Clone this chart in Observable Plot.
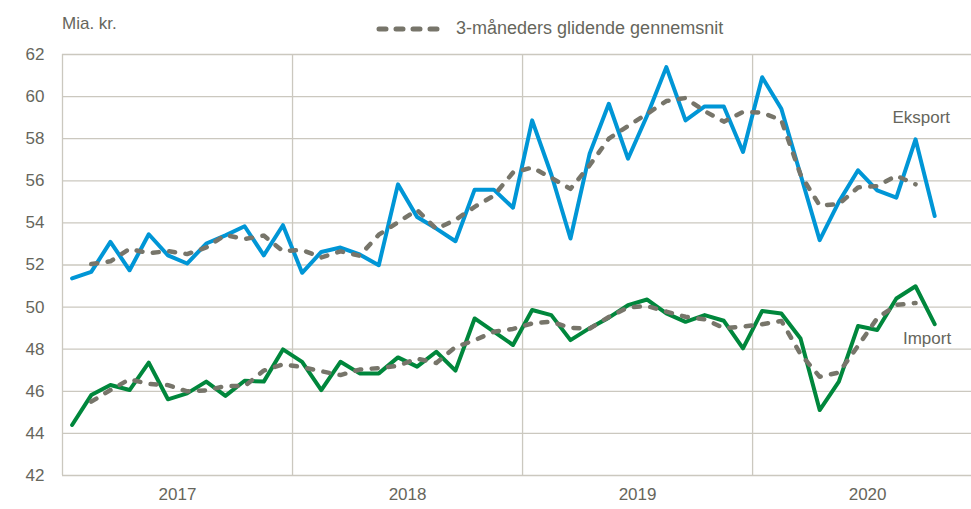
<!DOCTYPE html>
<html>
<head>
<meta charset="utf-8">
<script src="https://cdn.jsdelivr.net/npm/d3@7"></script>
<script src="https://cdn.jsdelivr.net/npm/@observablehq/plot@0.6"></script>
<style>
  html, body { margin: 0; padding: 0; background: #fff; }
  #wrap { position: relative; width: 971px; height: 509px; font-family: "Liberation Sans", Arial, sans-serif; color: #66665c; }
  #unit { position: absolute; left: 62px; top: 14px; font-size: 17px; }
  #legend { position: absolute; left: 376px; top: 18px; font-size: 18px; display: flex; align-items: center; }
  #legend svg { margin-right: 10px; }
  #chart { position: absolute; left: 0; top: 0; }
</style>
</head>
<body>
<div id="wrap">
  <div id="chart"></div>
  <div id="unit">Mia. kr.</div>
  <div id="legend"><svg width="70" height="10"><line x1="3" y1="5" x2="68" y2="5" stroke="#77756a" stroke-width="5" stroke-dasharray="7,10" stroke-linecap="round"/></svg><span>3-måneders glidende gennemsnit</span></div>
</div>
<script>
// Monthly values, Jan 2017 – Oct 2020 (mia. kr.)
const startYear = 2017;
const years = ["2017", "2018", "2019", "2020"];
const eksport = [51.36, 51.67, 53.10, 51.75, 53.46, 52.46, 52.07, 53.02, 53.41, 53.84, 52.46, 53.89,
                 51.63, 52.62, 52.83, 52.50, 51.99, 55.83, 54.28, 53.73, 53.13, 55.58, 55.58, 54.72,
                 58.87, 56.30, 53.26, 57.29, 59.66, 57.05, 59.10, 61.40, 58.87, 59.53, 59.53, 57.37,
                 60.92, 59.42, 56.30, 53.18, 55.00, 56.50, 55.55, 55.20, 57.97, 54.33];
const importV = [44.40, 45.82, 46.30, 46.06, 47.36, 45.62, 45.90, 46.46, 45.78, 46.50, 46.46, 47.99,
                 47.40, 46.06, 47.40, 46.85, 46.85, 47.61, 47.17, 47.88, 46.98, 49.46, 48.83, 48.20,
                 49.86, 49.62, 48.43, 49.00, 49.50, 50.09, 50.36, 49.70, 49.30, 49.62, 49.35, 48.04,
                 49.82, 49.70, 48.51, 45.11, 46.46, 49.10, 48.91, 50.41, 50.99, 49.19];
const yTicks = [42, 44, 46, 48, 50, 52, 54, 56, 58, 60, 62];

const rowsE = eksport.map((v, i) => ({i, v}));
const rowsI = importV.map((v, i) => ({i, v}));
const yearBounds = years.map((y, k) => k * 12 - 0.5);
const yearCenters = years.map((y, k) => k * 12 + 5.5);

const grid = "#cbc8bf";
const txt = "#66665c";
const dashColor = "#77756a";

const ma = (rows) => Plot.windowY({k: 3, anchor: "middle", reduce: "mean", strict: true}, {x: "i", y: "v"});

const chart = Plot.plot({
  width: 971,
  height: 509,
  marginLeft: 62,
  marginRight: 0,
  marginTop: 54,
  marginBottom: 34,
  style: {fontFamily: "'Liberation Sans', Arial, sans-serif", fontSize: "17px", color: txt, background: "transparent"},
  x: {type: "linear", domain: [-0.5, 46.92], axis: null},
  y: {domain: [42, 62], axis: null},
  marks: [
    Plot.ruleY(yTicks, {stroke: grid, strokeWidth: 1.3}),
    Plot.ruleX(yearBounds, {stroke: grid, strokeWidth: 1.3}),
    Plot.axisY({ticks: yTicks, tickSize: 0, tickPadding: 18, fontSize: 17, fill: txt, label: null}),
    Plot.axisX({ticks: yearCenters, tickFormat: (d) => years[Math.round((d - 5.5) / 12)], tickSize: 0, tickPadding: 12, fontSize: 17, fill: txt, label: null}),
    Plot.line(rowsE, {x: "i", y: "v", stroke: "#0096d6", strokeWidth: 4}),
    Plot.line(rowsI, {x: "i", y: "v", stroke: "#00873c", strokeWidth: 4}),
    Plot.line(rowsE, {...Plot.windowY({k: 3, anchor: "middle", reduce: "mean", strict: true}, {x: "i", y: "v"}), stroke: dashColor, strokeWidth: 4.5, strokeDasharray: "6,10.5", strokeLinecap: "round"}),
    Plot.line(rowsI, {...Plot.windowY({k: 3, anchor: "middle", reduce: "mean", strict: true}, {x: "i", y: "v"}), stroke: dashColor, strokeWidth: 4.5, strokeDasharray: "6,10.5", strokeLinecap: "round"}),
    Plot.text(["Eksport"], {x: 44.3, y: 59.0, text: (d) => d, fill: txt, fontSize: 17}),
    Plot.text(["Import"], {x: 44.6, y: 48.5, text: (d) => d, fill: txt, fontSize: 17})
  ]
});
document.getElementById("chart").appendChild(chart);
</script>
</body>
</html>
